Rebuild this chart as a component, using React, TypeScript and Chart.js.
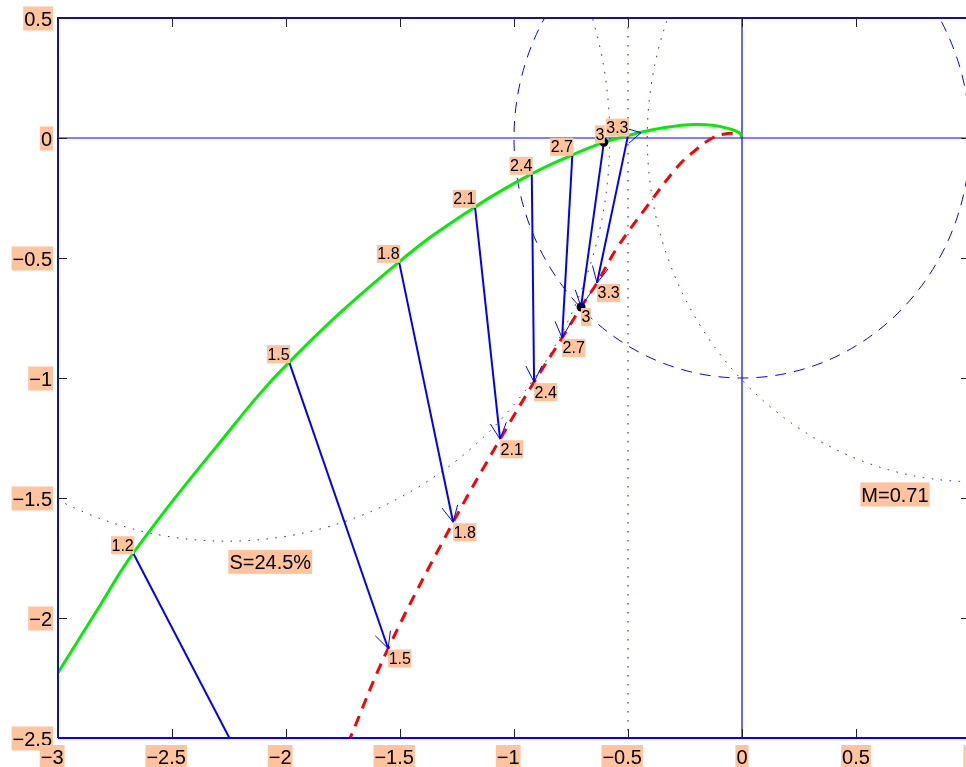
import React, { useEffect, useRef } from 'react';
import { Chart, registerables } from 'chart.js';
Chart.register(...registerables);

// ---- data ----
const freqLabels = ['1.2', '1.5', '1.8', '2.1', '2.4', '2.7', '3', '3.3'];
const openLoopX = [-2.67, -1.986, -1.504, -1.171, -0.922, -0.744, -0.606, -0.5];
const openLoopY = [-1.73, -0.934, -0.516, -0.287, -0.149, -0.07, -0.018, 0.01];
const delayedX = [-1.955, -1.552, -1.267, -1.061, -0.912, -0.789, -0.706, -0.636];
const delayedY = [-3.035, -2.127, -1.601, -1.255, -1.017, -0.833, -0.704, -0.604];

const greenCurveX = [-3.0, -2.83, -2.67, -2.3, -1.986, -1.504, -1.171, -0.922, -0.744, -0.606, -0.5, -0.44, -0.33, -0.21, -0.12, -0.05, -0.015, 0];
const greenCurveY = [-2.228, -1.97, -1.73, -1.28, -0.934, -0.516, -0.287, -0.149, -0.07, -0.018, 0.01, 0.025, 0.045, 0.056, 0.052, 0.037, 0.024, 0.006];

const redCurveX = [-1.955, -1.72, -1.552, -1.267, -1.061, -0.912, -0.789, -0.706, -0.636, -0.548, -0.412, -0.281, -0.206, -0.13, -0.07, -0.025, 0];
const redCurveY = [-3.035, -2.503, -2.127, -1.601, -1.255, -1.017, -0.833, -0.704, -0.604, -0.458, -0.279, -0.118, -0.052, 0.0, 0.018, 0.016, 0.005];

const markedIndex = 6; // frequency 3

const directionArrowFrom = [-0.51, 0.008];
const directionArrowTo = [-0.443, 0.022];

// circles: [centerX, centerY, radius]
const unitCircle = [0, 0, 1];
const sensitivityCircle = [-2.26, 0, 1.68];
const mCircle = [1.0165, 0, 1.432];
const mLineX = -0.5;

const annotationTexts = ['S=24.5%', 'M=0.71'];
const annotationX = [-2.069, 0.671];
const annotationY = [-1.766, -1.485];

const xTickValues = [-3, -2.5, -2, -1.5, -1, -0.5, 0, 0.5, 1];
const yTickValues = [-2.5, -2, -1.5, -1, -0.5, 0, 0.5];
const xTickLabels = ['−3', '−2.5', '−2', '−1.5', '−1', '−0.5', '0', '0.5', '1'];
const yTickLabels = ['−2.5', '−2', '−1.5', '−1', '−0.5', '0', '0.5'];

const X_MIN = -3, X_MAX = 1, Y_MIN = -2.5, Y_MAX = 0.5;

const LABEL_BG = '#FFC49E';
const FONT = '"Liberation Sans", Arial, Helvetica, sans-serif';

function arrowHead(ctx: CanvasRenderingContext2D, fx: number, fy: number, tx: number, ty: number, len = 18, ha = 0.46) {
  const ang = Math.atan2(ty - fy, tx - fx);
  ctx.beginPath();
  ctx.moveTo(tx - len * Math.cos(ang - ha), ty - len * Math.sin(ang - ha));
  ctx.lineTo(tx, ty);
  ctx.lineTo(tx - len * Math.cos(ang + ha), ty - len * Math.sin(ang + ha));
  ctx.stroke();
}

const overlay = {
  id: 'overlay',
  beforeDatasetsDraw(chart: any) {
    const { ctx, chartArea: a, scales } = chart;
    const x = scales.x, y = scales.y;
    ctx.save();
    ctx.beginPath();
    ctx.rect(a.left, a.top, a.right - a.left, a.bottom - a.top);
    ctx.clip();
    ctx.strokeStyle = '#0000ff';
    ctx.lineWidth = 1;
    const circ = (c: number[], dash: number[]) => {
      const cx = x.getPixelForValue(c[0]);
      const cy = y.getPixelForValue(c[1]);
      const rx = Math.abs(x.getPixelForValue(c[0] + c[2]) - cx);
      const ry = Math.abs(y.getPixelForValue(c[1] + c[2]) - cy);
      ctx.setLineDash(dash);
      ctx.beginPath();
      ctx.ellipse(cx, cy, rx, ry, 0, 0, Math.PI * 2);
      ctx.stroke();
    };
    circ(unitCircle, [11, 8]);
    circ(sensitivityCircle, [1.5, 7.5]);
    circ(mCircle, [1.5, 7.5]);
    const lx = x.getPixelForValue(mLineX);
    ctx.setLineDash([1.5, 7.5]);
    ctx.beginPath();
    ctx.moveTo(lx, a.top);
    ctx.lineTo(lx, a.bottom);
    ctx.stroke();
    ctx.restore();
  },
  afterDatasetsDraw(chart: any) {
    const { ctx, chartArea: a, scales } = chart;
    const x = scales.x, y = scales.y;
    ctx.save();
    ctx.beginPath();
    ctx.rect(a.left, a.top, a.right - a.left, a.bottom - a.top);
    ctx.clip();
    // arrow heads
    ctx.strokeStyle = '#0000ff';
    ctx.lineWidth = 1;
    ctx.setLineDash([]);
    for (let i = 0; i < freqLabels.length; i++) {
      arrowHead(ctx,
        x.getPixelForValue(openLoopX[i]), y.getPixelForValue(openLoopY[i]),
        x.getPixelForValue(delayedX[i]), y.getPixelForValue(delayedY[i]));
    }
    arrowHead(ctx,
      x.getPixelForValue(directionArrowFrom[0]), y.getPixelForValue(directionArrowFrom[1]),
      x.getPixelForValue(directionArrowTo[0]), y.getPixelForValue(directionArrowTo[1]), 16, 0.5);

    // frequency labels
    ctx.font = '16px ' + FONT;
    ctx.textAlign = 'left';
    ctx.textBaseline = 'alphabetic';
    for (let i = 0; i < freqLabels.length; i++) {
      const t = freqLabels[i];
      const w = ctx.measureText(t).width + 1;
      const gx = x.getPixelForValue(openLoopX[i]);
      const gy = y.getPixelForValue(openLoopY[i]);
      ctx.fillStyle = LABEL_BG;
      ctx.fillRect(gx + 1 - w, gy + 1 - 18, w, 18);
      ctx.fillStyle = '#000';
      ctx.fillText(t, gx + 1 - w + 0.5, gy + 1 - 3.5);
      const rx = x.getPixelForValue(delayedX[i]);
      const ry = y.getPixelForValue(delayedY[i]);
      ctx.fillStyle = LABEL_BG;
      ctx.fillRect(rx, ry + 1, w, 18);
      ctx.fillStyle = '#000';
      ctx.fillText(t, rx + 0.5, ry + 1 + 14.5);
    }
    // annotations
    ctx.font = '20px ' + FONT;
    ctx.textAlign = 'center';
    for (let i = 0; i < annotationTexts.length; i++) {
      const t = annotationTexts[i];
      const w = ctx.measureText(t).width + 2;
      const cx = x.getPixelForValue(annotationX[i]);
      const cy = y.getPixelForValue(annotationY[i]);
      ctx.fillStyle = LABEL_BG;
      ctx.fillRect(cx - w / 2, cy - 12, w, 24);
      ctx.fillStyle = '#000';
      ctx.fillText(t, cx, cy + 7.5);
    }
    ctx.restore();

    // ticks
    ctx.save();
    ctx.strokeStyle = '#222';
    ctx.lineWidth = 1;
    for (const v of xTickValues) {
      const px = Math.round(x.getPixelForValue(v)) + 0.5;
      ctx.beginPath();
      ctx.moveTo(px, a.bottom); ctx.lineTo(px, a.bottom - 9);
      ctx.moveTo(px, a.top); ctx.lineTo(px, a.top + 9);
      ctx.stroke();
    }
    for (const v of yTickValues) {
      const py = Math.round(y.getPixelForValue(v)) + 0.5;
      ctx.beginPath();
      ctx.moveTo(a.left, py); ctx.lineTo(a.left + 9, py);
      ctx.moveTo(a.right, py); ctx.lineTo(a.right - 9, py);
      ctx.stroke();
    }
    // frame
    ctx.lineWidth = 2;
    ctx.strokeStyle = '#0000ff';
    ctx.beginPath();
    ctx.moveTo(a.left, a.bottom); ctx.lineTo(a.right, a.bottom);
    ctx.moveTo(a.right, a.bottom); ctx.lineTo(a.right, a.top);
    ctx.stroke();
    ctx.strokeStyle = '#1212b4';
    ctx.beginPath();
    ctx.moveTo(a.left, a.bottom); ctx.lineTo(a.left, a.top);
    ctx.stroke();
    ctx.strokeStyle = '#14148f';
    ctx.beginPath();
    ctx.moveTo(a.left - 1, a.top); ctx.lineTo(a.right, a.top);
    ctx.stroke();

    // tick labels
    ctx.font = '20px ' + FONT;
    ctx.textBaseline = 'alphabetic';
    ctx.textAlign = 'left';
    for (let i = 0; i < yTickValues.length; i++) {
      const t = yTickLabels[i];
      const w = ctx.measureText(t).width;
      const py = y.getPixelForValue(yTickValues[i]);
      const right = a.left - 6;
      ctx.fillStyle = LABEL_BG;
      ctx.fillRect(right - w - 1, py - 11.5, w + 2, 24);
      ctx.fillStyle = '#000';
      ctx.fillText(t, right - w, py + 8);
    }
    for (let i = 0; i < xTickValues.length; i++) {
      const t = xTickLabels[i];
      const neg = t.startsWith('−');
      const num = neg ? t.slice(1) : t;
      const wNum = ctx.measureText(num).width;
      const wAll = ctx.measureText(t).width;
      const px = x.getPixelForValue(xTickValues[i]);
      const start = px - wNum / 2 - (wAll - wNum);
      ctx.fillStyle = LABEL_BG;
      ctx.fillRect(start - 1, a.bottom + 7, wAll + 2, 24);
      ctx.fillStyle = '#000';
      ctx.fillText(t, start, a.bottom + 25.5);
    }
    ctx.restore();
  },
};

function pts(xs: number[], ys: number[]) {
  return xs.map((v, i) => ({ x: v, y: ys[i] }));
}

export default function App() {
  const ref = useRef<HTMLCanvasElement>(null);
  useEffect(() => {
    const datasets: any[] = [];
    datasets.push({
      data: [
        { x: openLoopX[markedIndex], y: openLoopY[markedIndex] },
        { x: delayedX[markedIndex], y: delayedY[markedIndex] },
      ],
      showLine: false,
      pointRadius: 4.5,
      pointBackgroundColor: '#000',
      pointBorderColor: '#000',
      pointBorderWidth: 0,
    });
    for (let i = 0; i < freqLabels.length; i++) {
      datasets.push({
        data: [
          { x: openLoopX[i], y: openLoopY[i] },
          { x: delayedX[i], y: delayedY[i] },
        ],
        showLine: true,
        borderColor: '#0000ff',
        borderWidth: 2,
        pointRadius: 0,
        tension: 0,
        clip: 0,
      });
    }
    datasets.push({
      data: pts(greenCurveX, greenCurveY),
      showLine: true,
      borderColor: '#00ee00',
      borderWidth: 3,
      pointRadius: 0,
      tension: 0.4,
      clip: 0,
    });
    datasets.push({
      data: pts(redCurveX, redCurveY),
      showLine: true,
      borderColor: '#ff0000',
      borderWidth: 3,
      borderDash: [11, 8],
      pointRadius: 0,
      tension: 0.4,
      clip: 0,
    });
    datasets.push({
      data: [{ x: X_MIN, y: 0 }, { x: X_MAX, y: 0 }],
      showLine: true,
      borderColor: '#0000ff',
      borderWidth: 1.2,
      pointRadius: 0,
      clip: 0,
    });
    datasets.push({
      data: [{ x: 0, y: Y_MIN }, { x: 0, y: Y_MAX }],
      showLine: true,
      borderColor: '#0000ff',
      borderWidth: 1.2,
      pointRadius: 0,
      clip: 0,
    });

    const chart = new Chart(ref.current as HTMLCanvasElement, {
      type: 'scatter',
      data: { datasets },
      options: {
        animation: false,
        responsive: false,
        devicePixelRatio: 1,
        layout: { padding: { left: 58, top: 18, right: 10, bottom: 29 } },
        plugins: { legend: { display: false }, tooltip: { enabled: false } },
        events: [],
        scales: {
          x: { type: 'linear', min: X_MIN, max: X_MAX, display: false },
          y: { type: 'linear', min: Y_MIN, max: Y_MAX, display: false },
        },
      } as any,
      plugins: [overlay],
    });
    return () => chart.destroy();
  }, []);
  return (
    <div style={{ position: 'fixed', left: 0, top: 0, width: 966, height: 767, overflow: 'hidden', background: '#fff' }}>
      <canvas ref={ref} width={980} height={767} style={{ display: 'block', width: 980, height: 767 }} />
    </div>
  );
}
